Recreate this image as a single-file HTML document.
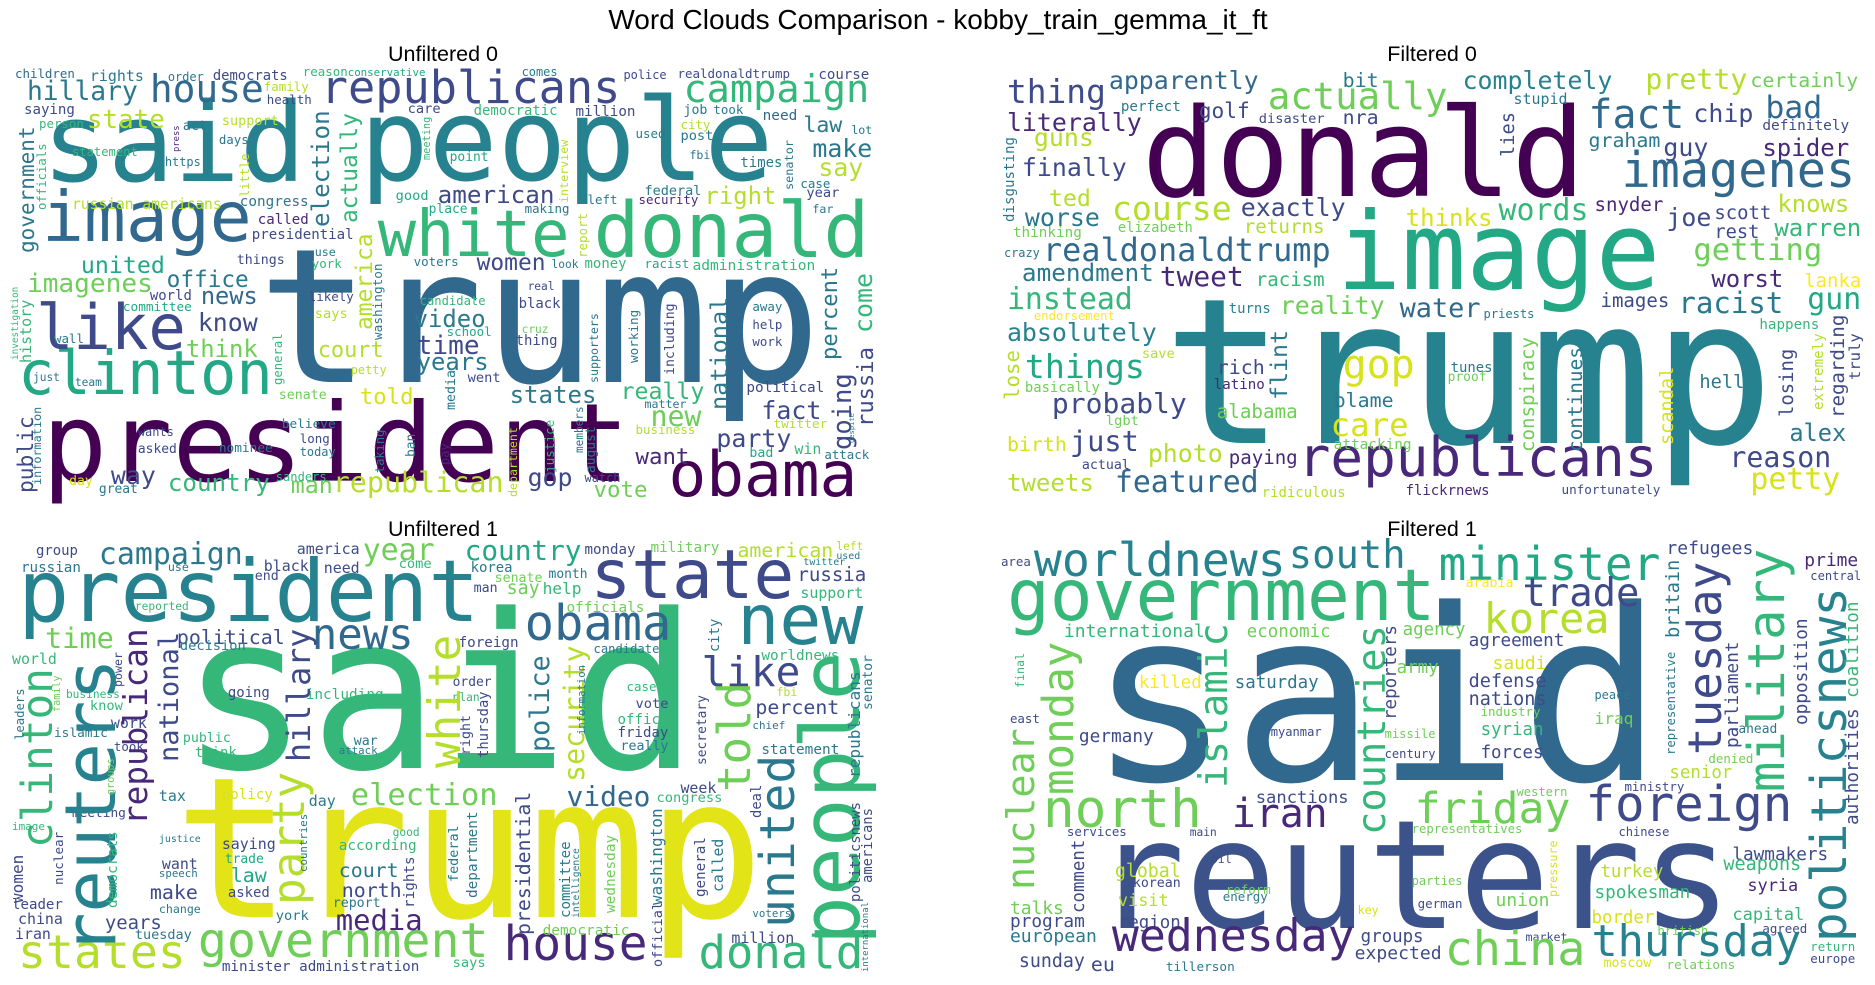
<!DOCTYPE html>
<html><head><meta charset="utf-8"><style>
html,body{margin:0;padding:0;background:#fff;}
#root{position:relative;width:1875px;height:985px;overflow:hidden;background:#fff;font-family:"DejaVu Sans Mono","Liberation Mono",monospace;}
.t{position:absolute;font-family:"Liberation Sans",sans-serif;color:#000;white-space:nowrap;transform:translateX(-50%);}
.w{position:absolute;white-space:nowrap;line-height:1;font-family:"DejaVu Sans Mono","Liberation Mono",monospace;}
</style></head><body>
<div id="root">
<div class="t" style="left:938px;top:4px;font-size:28px;">Word Clouds Comparison - kobby_train_gemma_it_ft</div>
<div class="t" style="left:443px;top:42px;font-size:21.5px;">Unfiltered 0</div>
<div class="t" style="left:1432px;top:42px;font-size:21.5px;">Filtered 0</div>
<div class="t" style="left:443px;top:517px;font-size:21.5px;">Unfiltered 1</div>
<div class="t" style="left:1432px;top:517px;font-size:21.5px;">Filtered 1</div>
</div>
<script>
const P='#440154',U='#482878',I='#3e4a89',B='#31688e',T='#26828e',C='#2a788e',G='#22a884',N='#35b779',L='#6ece58',Y='#b5de2b',E='#d8e219',F='#fde725';
const h1=[["trump",430,1370,1150,B],["president",70,1050,1445,P],["said",70,510,545,T],["people",600,1290,545,T],["image",70,420,725,B],["donald",990,1450,775,N],["white",630,950,775,N],["clinton",30,455,1185,G],["like",60,310,1050,I],["obama",1115,1430,1490,P],["republicans",535,1035,310,I],["campaign",1140,1450,310,N],["house",250,440,310,B],["hillary",45,230,305,C],["republican",555,840,1480,Y],["country",280,450,1475,N],["american",730,925,610,I],["united",135,275,820,G],["imagenes",45,255,880,L],["office",278,415,865,C],["news",335,430,915,B],["know",330,430,995,I],["think",310,430,1075,L],["court",530,640,1075,Y],["video",690,810,985,C],["time",695,800,1065,I],["years",695,815,1115,C],["states",850,995,1210,C],["really",1035,1175,1200,N],["new",1085,1170,1280,L],["fact",1270,1370,1260,I],["party",1195,1320,1345,I],["want",1060,1150,1395,U],["told",600,690,1215,E],["gop",880,955,1460,I],["vote",990,1080,1495,L],["man",485,555,1480,L],["way",185,260,1455,I],["make",1355,1455,475,C],["say",1365,1440,530,Y],["law",1340,1405,400,C],["right",1175,1295,615,Y],["women",795,910,815,I],["state",145,275,390,Y],["presidential",420,590,720,I],["congress",400,515,620,C],["called",430,515,675,U],["administration",1155,1360,815,N],["democrats",355,480,245,I],["rights",150,240,245,C],["children",25,125,235,B],["saying",40,125,345,I],["support",370,465,380,Y],["care",680,735,345,I],["democratic",790,930,350,N],["million",960,1060,350,I],["need",1272,1330,365,B],["political",1245,1375,1180,I],["russian americans",120,370,630,Y],["things",395,475,795,I],["senate",465,545,1200,L],["just",55,100,1145,C],["course",1365,1450,240,I],["realdonaldtrump",1130,1318,235,I],["police",1040,1112,240,I],["federal",1075,1170,590,C],["good",660,715,605,G],["year",1345,1400,595,I],["black",865,935,930,I],["candidate",700,810,915,N],["thing",860,930,1040,I],["went",780,835,1150,I],["petty",585,645,1125,Y],["twitter",1290,1380,1290,Y],["win",1325,1370,1365,N],["attack",1375,1450,1380,C],["asked",230,295,1365,I],["wants",230,290,1310,I],["believe",470,560,1290,C],["long",500,550,1330,I],["today",500,560,1370,C],["nominee",365,455,1360,C],["sanders",460,545,1445,N],["great",165,230,1485,C],["day",115,155,1460,E],["watch",975,1035,1450,I],["team",125,170,1160,C],["wall",90,140,1030,C],["committee",205,320,935,G],["world",250,320,905,I],["likely",515,590,905,I],["says",525,580,960,Y],["school",745,820,1010,G],["cruz",870,915,1000,L],["help",1255,1305,990,I],["work",1255,1305,1040,I],["away",1255,1305,935,C],["real",880,925,870,I],["voters",690,765,800,C],["money",975,1045,810,N],["racist",1075,1150,805,G],["look",920,965,805,C],["use",525,560,770,C],["york",520,570,805,N],["point",750,815,490,G],["https",275,335,500,C],["days",365,415,435,C],["statement",120,230,470,N],["health",445,520,315,I],["family",440,515,275,Y],["person",65,140,385,N],["act",305,345,395,C],["used",1060,1110,415,C],["post",1135,1190,425,C],["fbi",1150,1185,480,C],["times",1235,1305,505,C],["city",1135,1185,390,Y],["job",1140,1180,345,C],["took",1190,1240,345,C],["lot",1420,1455,405,C],["case",1335,1385,565,C],["far",1355,1390,640,C],["security",1065,1165,615,U],["left",980,1030,615,C],["making",875,950,640,C],["place",715,780,645,G],["reason",505,580,230,N],["conservative",580,710,232,G],["comes",870,930,232,C],["order",280,340,245,C],["matter",1075,1145,1225,C],["business",1060,1160,1305,Y],["bad",1250,1290,1375,G]];
const v1=[["election",520,560,330,680,C],["actually",570,605,340,670,N],["america",595,625,700,990,Y],["government",30,60,380,760,C],["public",30,60,1250,1480,I],["national",1185,1215,890,1230,C],["percent",1370,1400,800,1080,C],["russia",1430,1460,1040,1280,I],["going",1390,1420,1120,1350,I],["come",1425,1450,820,1000,N],["washington",625,645,790,1020,C],["supporters",985,1000,940,1150,C],["including",1110,1130,910,1125,I],["working",1050,1065,930,1090,C],["general",455,470,1000,1155,N],["media",745,765,1110,1230,C],["department",850,865,1280,1490,Y],["justice",910,928,1260,1420,N],["members",960,978,1220,1360,C],["august",980,998,1280,1420,C],["taking",625,640,1290,1420,C],["ban",680,695,1300,1370,C],["pay",735,750,1330,1395,U],["information",55,70,1220,1455,C],["investigation",20,35,860,1080,N],["history",35,50,900,1090,N],["officials",62,78,430,630,N],["little",400,415,460,590,Y],["press",290,305,375,455,U],["interview",935,955,420,610,Y],["report",965,985,640,775,Y],["senator",1310,1325,420,570,C],["meeting",705,720,350,480,N],["despite",1415,1432,1240,1330,C]];
const h2=[["trump",380,1400,1330,T],["donald",345,1085,590,P],["image",670,1210,870,G],["republicans",605,1205,1430,U],["imagenes",1145,1535,565,B],["actually",555,855,330,L],["fact",1090,1250,390,B],["thing",120,285,310,I],["apparently",290,540,270,B],["completely",880,1130,270,T],["pretty",1185,1355,270,Y],["certainly",1360,1540,265,L],["literally",120,345,395,U],["golf",440,525,355,I],["chip",1265,1365,370,I],["bad",1385,1480,360,B],["guns",165,265,440,Y],["finally",145,320,530,I],["graham",1090,1210,445,C],["guy",1215,1290,470,I],["spider",1380,1525,470,U],["ted",190,260,620,Y],["course",295,495,660,Y],["exactly",510,685,650,I],["worse",150,275,680,C],["thinks",785,930,680,E],["words",940,1090,665,N],["snyder",1100,1215,635,U],["joe",1220,1295,680,I],["scott",1300,1395,660,I],["knows",1405,1525,640,Y],["returns",515,650,700,Y],["elizabeth",305,430,700,L],["warren",1400,1545,710,N],["rest",1300,1375,720,I],["realdonaldtrump",180,660,785,B],["getting",1265,1480,785,L],["amendment",145,365,845,C],["tweet",375,515,860,U],["racism",535,650,860,N],["worst",1295,1415,865,U],["lanka",1450,1545,865,F],["instead",120,330,930,N],["reality",575,750,945,L],["water",775,910,955,B],["images",1110,1225,925,I],["racist",1240,1415,940,C],["gun",1455,1545,930,G],["turns",490,560,945,T],["absolutely",120,370,1025,T],["things",150,350,1135,G],["gop",680,800,1140,E],["rich",470,550,1125,I],["probably",195,420,1240,I],["alabama",470,605,1255,L],["blame",665,765,1225,C],["care",660,790,1310,E],["hell",1275,1350,1170,C],["alex",1425,1520,1325,C],["just",225,340,1355,I],["birth",120,220,1355,E],["photo",355,480,1390,Y],["paying",490,605,1395,U],["reason",1325,1495,1405,I],["petty",1360,1510,1470,E],["tweets",120,265,1475,Y],["featured",300,540,1480,B],["flickrnews",785,925,1490,U],["unfortunately",1045,1210,1485,I],["ridiculous",545,685,1495,Y],["bit",680,740,265,C],["stupid",965,1055,315,C],["perfect",310,410,335,C],["disaster",540,650,375,I],["nra",680,740,375,I],["definitely",1380,1525,395,I],["crazy",115,175,775,C],["thinking",130,245,715,L],["endorsement",165,300,960,F],["priests",915,1000,955,C],["happens",1375,1475,990,N],["save",345,400,1080,Y],["basically",150,275,1180,L],["latino",465,550,1170,U],["tunes",860,930,1120,C],["proof",855,920,1150,L],["lgbt",285,340,1280,L],["attacking",665,795,1350,L],["actual",245,325,1410,I]];
const v2=[["disgusting",115,140,410,665,C],["lies",945,980,335,470,I],["lose",115,150,1050,1200,Y],["flint",560,600,990,1200,C],["conspiracy",975,1005,1010,1355,L],["continues",1055,1085,1040,1355,C],["scandal",1210,1240,1100,1335,E],["losing",1410,1445,1045,1250,I],["regarding",1495,1525,945,1255,I],["extremely",1465,1485,1000,1230,Y],["truly",1525,1545,1000,1140,I]];
const h3=[["said",300,1165,850,N],["trump",290,1275,1300,'#e2e418'],["president",30,800,410,T],["state",985,1325,340,I],["new",1230,1440,480,T],["obama",875,1120,470,B],["news",520,690,495,B],["campaign",165,405,240,C],["year",605,725,230,L],["country",775,970,225,G],["like",1170,1335,605,I],["percent",1260,1400,690,I],["house",840,1080,1430,U],["donald",1165,1440,1450,N],["government",330,815,1420,L],["states",30,310,1450,Y],["election",585,830,965,L],["video",945,1085,965,B],["media",560,705,1335,U],["north",570,670,1240,I],["court",565,665,1180,C],["according",565,695,1100,N],["time",75,190,490,L],["political",295,475,480,I],["years",175,270,1335,I],["tuesday",225,320,1365,C],["make",250,330,1245,I],["law",385,445,1195,G],["saying",370,460,1095,I],["want",270,330,1155,I],["minister administration",370,700,1460,I],["million",1220,1325,1375,I],["statement",1270,1400,810,C],["officials",945,1075,385,L],["support",1335,1440,340,N],["russia",1330,1445,290,I],["american",1230,1390,220,Y],["military",1085,1200,205,L],["monday",975,1060,210,I],["america",495,600,210,I],["black",440,515,260,I],["need",540,600,265,I],["group",60,130,215,I],["russian",35,135,265,C],["say",845,900,330,L],["senate",825,905,295,L],["korea",785,855,265,C],["foreign",765,865,490,I],["worldnews",1270,1400,530,N],["going",380,450,640,I],["including",510,640,645,N],["public",305,385,775,N],["think",325,395,820,N],["know",150,205,680,N],["work",185,245,730,I],["case",1045,1095,620,N],["vote",1060,1115,675,I],["office",1030,1115,720,N],["friday",1030,1115,760,I],["really",1035,1115,800,C],["congress",1095,1205,955,N],["day",515,560,965,C],["tax",265,310,950,C],["leader",20,105,1275,I],["china",30,105,1320,I],["iran",25,85,1365,I],["policy",370,455,945,E],["democratic",905,1050,1355,L],["week",1135,1195,925,I],["says",755,810,1450,N],["voters",1255,1320,1300,C],["order",755,820,610,I],["plan",755,800,650,N],["war",590,630,785,C],["attack",565,630,810,C],["took",190,240,800,I],["islamic",90,180,760,C],["business",110,200,640,N],["world",20,95,540,N],["meeting",120,210,1000,I],["image",20,75,1040,N],["justice",265,335,1075,C],["trade",375,440,1140,G],["speech",265,330,1180,C],["change",265,335,1285,C],["asked",380,450,1240,I],["report",555,635,1270,C],["york",460,515,1310,C],["good",655,700,1055,N],["end",425,465,290,I],["come",665,720,255,N],["man",790,830,325,I],["month",915,980,285,C],["help",905,970,330,N],["use",280,315,260,C],["reported",225,315,375,N],["decision",300,410,500,C],["candidate",990,1100,505,C],["chief",1255,1310,735,C],["left",1395,1440,195,Y],["used",1395,1435,225,C],["twitter",1340,1410,245,C],["fbi",1295,1330,635,Y]];
const v3=[["reuters",105,190,520,1410,T],["clinton",35,105,550,1090,N],["republican",205,265,430,1020,U],["national",265,300,440,830,I],["hillary",480,515,430,830,I],["party",455,515,860,1260,Y],["white",715,760,450,850,Y],["police",885,920,510,800,C],["security",940,980,480,890,Y],["told",1195,1255,590,920,L],["united",1265,1335,810,1330,C],["people",1335,1420,500,1380,N],["presidential",860,895,920,1350,I],["federal",750,770,1020,1190,C],["department",780,805,980,1240,C],["right",770,790,690,810,I],["thursday",800,820,620,820,I],["rights",675,695,1115,1270,I],["committee",935,955,1070,1300,C],["wednesday",1010,1030,1050,1285,L],["washington",1085,1110,970,1260,C],["official",1090,1110,1250,1445,I],["general",1160,1185,1055,1235,I],["called",1190,1215,1060,1220,C],["secretary",1165,1190,630,840,I],["city",1185,1210,400,500,C],["republicans",1415,1440,560,880,C],["politicsnews",1420,1440,950,1250,I],["americans",1440,1460,970,1195,I],["senator",1440,1460,510,675,C],["democrats",180,205,1040,1270,N],["countries",500,520,985,1160,C],["nuclear",90,110,1040,1200,I],["women",20,40,1110,1255,I],["leaders",25,45,610,765,C],["power",190,210,500,605,I],["intelligence",955,970,1090,1300,C],["information",965,985,540,750,C],["deal",1255,1275,900,1000,I],["groups",180,195,820,930,L],["family",90,105,570,680,L],["international",1440,1455,1250,1460,C]];
const h4=[["said",255,1215,890,B],["reuters",265,1330,1330,'#3b528b'],["government",120,835,405,N],["worldnews",165,585,275,T],["south",590,785,255,T],["minister",840,1210,285,G],["refugees",1220,1365,210,I],["prime",1450,1540,245,U],["central",1460,1545,285,I],["trade",980,1175,370,I],["korea",915,1125,445,Y],["international",215,450,460,N],["economic",520,660,460,L],["agency",780,885,455,L],["agreement",890,1050,490,I],["saudi",930,1020,555,E],["army",770,840,570,L],["killed",340,445,615,F],["saturday",500,640,615,C],["defense",890,1020,610,I],["nations",890,1020,665,I],["industry",910,1010,695,L],["peace",1100,1160,645,C],["iraq",1100,1165,720,L],["syrian",910,1015,755,N],["forces",910,1015,825,I],["germany",240,365,775,I],["myanmar",560,645,755,I],["missile",750,835,760,L],["century",750,835,820,I],["east",125,175,715,I],["senior",1225,1330,885,Y],["ministry",1150,1250,920,I],["western",970,1055,935,L],["north",180,445,1030,L],["iran",495,655,1030,U],["sanctions",535,690,960,I],["friday",800,1060,1020,L],["foreign",1085,1430,1010,I],["representatives",795,980,1045,L],["chinese",1140,1225,1055,I],["services",220,320,1055,I],["main",425,470,1055,I],["oil",460,495,1135,I],["lawmakers",1330,1490,1130,I],["weapons",1315,1445,1160,N],["global",300,410,1180,Y],["korean",330,410,1210,I],["turkey",1110,1215,1180,Y],["syria",1355,1440,1220,U],["parties",795,880,1200,L],["reform",485,560,1230,L],["energy",480,555,1250,C],["spokesman",1100,1260,1245,N],["visit",305,390,1265,Y],["union",935,1025,1265,L],["german",805,880,1270,I],["talks",125,215,1290,L],["key",705,740,1290,E],["capital",1330,1450,1310,N],["border",1095,1200,1320,E],["program",125,250,1330,I],["region",305,410,1335,I],["agreed",1380,1455,1345,I],["british",1205,1290,1350,L],["groups",710,815,1375,I],["market",985,1055,1370,I],["european",125,270,1375,C],["wednesday",295,700,1400,U],["china",850,1085,1445,L],["thursday",1095,1445,1420,T],["expected",700,845,1425,I],["return",1460,1535,1400,N],["europe",1460,1535,1435,I],["sunday",140,250,1450,I],["eu",260,300,1460,I],["tillerson",385,500,1460,C],["moscow",1115,1195,1450,E],["relations",1220,1335,1455,L],["area",110,160,245,I],["arabia",885,965,310,F],["ahead",1340,1405,750,C],["denied",1290,1365,835,L]];
const v4=[["monday",180,240,470,930,L],["nuclear",120,180,730,1215,L],["islamic",440,495,415,910,N],["countries",705,745,420,1050,N],["reporters",750,775,420,705,I],["tuesday",1255,1335,230,810,I],["military",1355,1420,190,920,N],["politicsnews",1460,1535,305,1370,T],["britain",1220,1245,225,460,C],["representative",1220,1240,500,810,C],["parliament",1320,1345,470,790,I],["opposition",1435,1455,400,720,I],["coalition",1520,1540,350,640,N],["authorities",1520,1540,670,1020,I],["comment",230,255,1065,1285,I],["final",135,150,505,610,N],["pressure",1025,1040,1065,1235,E]];
const panels=[[h1,v1,0,0],[h2,v2,935,0],[h3,v3,0,485],[h4,v4,935,485]];
const root=document.getElementById('root');
const SX=1.668,SY=3;
function addH(d,ox,oy){
  const [w,x1,x2,yb,col]=d;
  const len=(x2-x1)/SX, s=len/(0.602*w.length);
  const el=document.createElement('span');
  el.className='w';
  
  
  el.textContent=w;
  el.style.fontSize=s+'px';
  el.style.color=col;
  el.style.left=(ox+x1/SX)+'px';
  el.style.top=(oy+yb/SY-0.846*s)+'px';
  root.appendChild(el);
}
function addV(d,ox,oy){
  const [w,x1,x2,yt,yb,col]=d;
  const len=(yb-yt)/SY, s=len/(0.602*w.length);
  const el=document.createElement('span');
  el.className='w';
  
  
  el.textContent=w;
  el.style.fontSize=s+'px';
  el.style.color=col;
  el.style.left=(ox+x1/SX-0.1*s)+'px';
  el.style.top=(oy+yb/SY)+'px';
  el.style.transformOrigin='0 0';
  el.style.transform='rotate(-90deg)';
  root.appendChild(el);
}
panels.forEach(p=>{p[0].forEach(d=>addH(d,p[2],p[3]));p[1].forEach(d=>addV(d,p[2],p[3]));});
</script>
</body></html>
